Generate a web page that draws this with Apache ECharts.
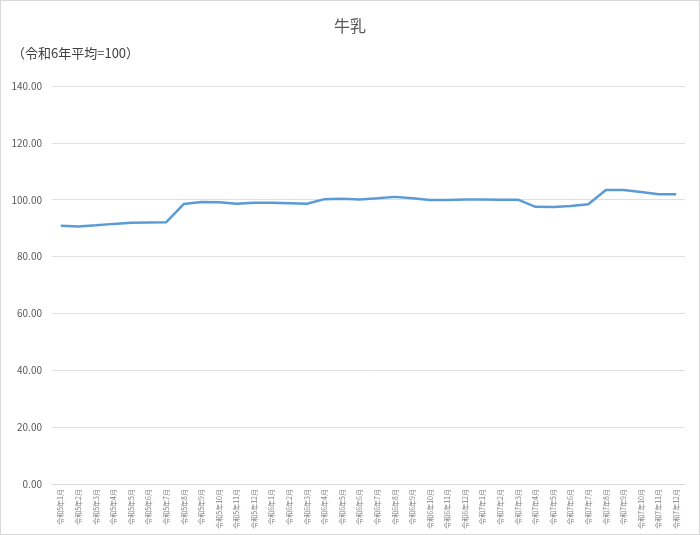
<!DOCTYPE html>
<html><head><meta charset="utf-8">
<script src="https://cdn.jsdelivr.net/npm/echarts@6/dist/echarts.min.js"></script>
<style>html,body{margin:0;padding:0;background:#fff}#c{width:698px;height:533px;border:1px solid #d9d9d9;}</style>
</head><body><div id="c"></div>
<script>
const categories = [
 '令和5年1月','令和5年2月','令和5年3月','令和5年4月','令和5年5月','令和5年6月','令和5年7月','令和5年8月','令和5年9月','令和5年10月','令和5年11月','令和5年12月',
 '令和6年1月','令和6年2月','令和6年3月','令和6年4月','令和6年5月','令和6年6月','令和6年7月','令和6年8月','令和6年9月','令和6年10月','令和6年11月','令和6年12月',
 '令和7年1月','令和7年2月','令和7年3月','令和7年4月','令和7年5月','令和7年6月','令和7年7月','令和7年8月','令和7年9月','令和7年10月','令和7年11月','令和7年12月'];
const milkIndex = [
 90.8,90.6,91.0,91.5,91.9,92.0,92.1,98.5,99.2,99.1,98.6,98.9,
 98.9,98.8,98.6,100.2,100.3,100.1,100.5,101.0,100.5,99.9,99.9,100.1,
 100.1,100.0,100.0,97.5,97.4,97.8,98.4,103.4,103.4,102.7,101.9,101.9];
const titleText = '牛乳';
const subtitleText = '（令和6年平均=100）';
const font = '"Noto Sans CJK JP", sans-serif';
const chart = echarts.init(document.getElementById('c'));
chart.setOption({
  animation:false,
  textStyle:{fontFamily:font},
  title:[
    {text:titleText,left:'center',top:12,textStyle:{fontSize:16,fontWeight:'normal',color:'#595959',fontFamily:font}},
    {text:subtitleText,left:6,top:41,textStyle:{fontSize:13,fontWeight:'normal',color:'#404040',fontFamily:font}}
  ],
  grid:{left:51,right:14,top:85,bottom:50,containLabel:false},
  xAxis:{type:'category',data:categories,boundaryGap:true,
    axisLine:{lineStyle:{color:'#d9d9d9'}},axisTick:{show:false},
    axisLabel:{rotate:90,fontSize:7,color:'#7f7f7f',interval:0,margin:5,fontFamily:font}},
  yAxis:{type:'value',min:0,max:140,interval:20,
    axisLine:{show:false},axisTick:{show:false},
    splitLine:{lineStyle:{color:'#e0e0e0'}},
    axisLabel:{formatter:v=>v.toFixed(2),fontSize:10,color:'#595959',margin:10,fontFamily:font}},
  series:[{type:'line',data:milkIndex,symbol:'none',lineStyle:{color:'#5b9bd5',width:2.5}}]
});
</script></body></html>
